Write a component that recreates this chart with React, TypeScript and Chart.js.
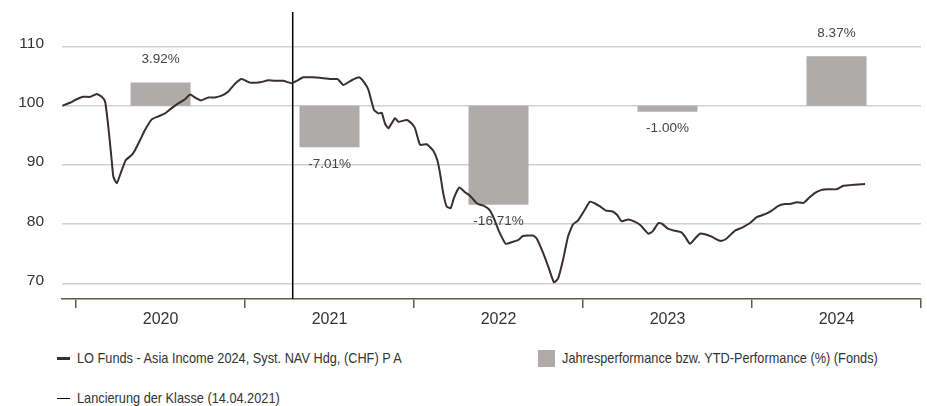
import React, { useEffect, useRef } from 'react';
import { Chart, registerables } from 'chart.js';

Chart.register(...registerables);

const FONT = "'Liberation Sans', Arial, sans-serif";

// NAV series (time in fractional years, value indexed to 100)
const navTime = [
  2019.919, 2019.964, 2020.004, 2020.043, 2020.083, 2020.122, 2020.152, 2020.172, 2020.182, 2020.195,
  2020.211, 2020.221, 2020.241, 2020.264, 2020.294, 2020.330, 2020.349, 2020.379, 2020.408, 2020.448,
  2020.487, 2020.527, 2020.566, 2020.605, 2020.645, 2020.675, 2020.704, 2020.740, 2020.783, 2020.822,
  2020.862, 2020.901, 2020.941, 2020.980, 2021.030, 2021.089, 2021.138, 2021.188, 2021.227, 2021.276,
  2021.306, 2021.345, 2021.395, 2021.454, 2021.513, 2021.549, 2021.582, 2021.631, 2021.675, 2021.706,
  2021.730, 2021.763, 2021.789, 2021.809, 2021.828, 2021.848, 2021.888, 2021.907, 2021.957, 2021.986,
  2022.006, 2022.036, 2022.075, 2022.114, 2022.138, 2022.154, 2022.173, 2022.193, 2022.217, 2022.237,
  2022.268, 2022.302, 2022.331, 2022.373, 2022.414, 2022.444, 2022.473, 2022.503, 2022.543, 2022.580,
  2022.615, 2022.645, 2022.704, 2022.726, 2022.765, 2022.795, 2022.828, 2022.852, 2022.882, 2022.911,
  2022.941, 2022.970, 2023.012, 2023.041, 2023.071, 2023.101, 2023.136, 2023.172, 2023.201, 2023.229,
  2023.268, 2023.308, 2023.337, 2023.363, 2023.386, 2023.412, 2023.446, 2023.466, 2023.505, 2023.544,
  2023.584, 2023.604, 2023.633, 2023.663, 2023.692, 2023.722, 2023.761, 2023.801, 2023.821, 2023.850,
  2023.899, 2023.939, 2023.988, 2024.028, 2024.077, 2024.117, 2024.156, 2024.195, 2024.225, 2024.264,
  2024.304, 2024.339, 2024.373, 2024.412, 2024.451, 2024.501, 2024.540, 2024.580, 2024.629, 2024.669,
];
const navValues = [
  100.0, 100.5, 101.1, 101.5, 101.5, 102.0, 101.5, 100.7, 98.7, 95.4,
  90.8, 88.0, 86.9, 88.6, 90.8, 91.7, 92.5, 94.2, 95.9, 97.7,
  98.2, 98.7, 99.6, 100.4, 101.1, 101.9, 101.4, 100.9, 101.4, 101.4,
  101.7, 102.4, 103.7, 104.5, 103.9, 103.95, 104.3, 104.2, 104.2, 103.8,
  104.2, 104.8, 104.8, 104.7, 104.5, 104.5, 103.5, 104.3, 104.8, 103.9,
  102.7, 99.3, 98.7, 98.8, 97.0, 96.2, 97.9, 97.3, 97.6, 97.0,
  96.2, 93.4, 93.5, 92.4, 90.8, 88.6, 85.2, 83.0, 82.7, 84.5,
  86.2, 85.4, 84.8, 83.5, 83.1, 82.5, 81.0, 78.8, 76.7, 77.0,
  77.3, 78.0, 78.1, 77.6, 75.1, 72.8, 70.2, 70.8, 74.0, 77.9,
  80.0, 80.6, 82.5, 83.8, 83.5, 83.0, 82.3, 82.2, 81.6, 80.5,
  80.8, 80.4, 79.9, 79.1, 78.4, 78.8, 80.2, 80.1, 79.2, 78.9,
  78.6, 77.9, 76.7, 77.6, 78.4, 78.3, 77.9, 77.3, 77.2, 77.6,
  78.9, 79.4, 80.2, 81.2, 81.7, 82.3, 83.1, 83.4, 83.4, 83.7,
  83.6, 84.5, 85.3, 85.8, 85.9, 85.9, 86.5, 86.6, 86.7, 86.8,
];

// Annual / YTD performance (%)
const perfYears = [2020, 2021, 2022, 2023, 2024];
const perfValues = [3.92, -7.01, -16.71, -1.0, 8.37];

const yTicks = [70, 80, 90, 100, 110];
const xYears = [2020, 2021, 2022, 2023, 2024, 2025];
const launchDate = '2021-04-14';

const seriesLabel = 'LO Funds - Asia Income 2024, Syst. NAV Hdg, (CHF) P A';
const barLegendLabel = 'Jahresperformance bzw. YTD-Performance (%) (Fonds)';
const launchLabel = 'Lancierung der Klasse (14.04.2021)';

const LINE_COLOR = '#3a2e2e';
const BAR_COLOR = '#afabaa';
const AXIS_COLOR = '#5c5c48';
const GRID_COLOR = '#cfcfcf';
const TEXT_COLOR = '#333333';

const X_MIN = 2019.917;
const X_MAX = 2025;
const Y_MIN = 67.38;
const Y_MAX = 115.82;

function dateToYear(s: string): number {
  const d = new Date(s + 'T00:00:00Z');
  const y = d.getUTCFullYear();
  const start = Date.UTC(y, 0, 1);
  const end = Date.UTC(y + 1, 0, 1);
  return y + (d.getTime() - start) / (end - start);
}

const barLabelPlugin = {
  id: 'barLabels',
  afterDatasetDraw(chart: any, args: any) {
    const ds = chart.data.datasets[args.index];
    if (ds.type !== 'bar') return;
    const ctx = chart.ctx;
    const yScale = chart.scales.y;
    ctx.save();
    ctx.font = `13.5px ${FONT}`;
    ctx.fillStyle = '#444444';
    ctx.textAlign = 'center';
    ctx.textBaseline = 'middle';
    args.meta.data.forEach((el: any, i: number) => {
      const v = perfValues[i];
      const end = yScale.getPixelForValue(100 + v);
      const y = v >= 0 ? end - 23 : end + 17;
      ctx.fillText(`${v.toFixed(2)}%`, el.x, y);
    });
    ctx.restore();
  },
};

export default function App() {
  const canvasRef = useRef<HTMLCanvasElement | null>(null);

  useEffect(() => {
    if (!canvasRef.current) return;
    const launch = dateToYear(launchDate);
    const chart = new Chart(canvasRef.current, {
      data: {
        datasets: [
          {
            type: 'line',
            label: seriesLabel,
            data: navTime.map((t, i) => ({ x: t, y: navValues[i] })),
            borderColor: LINE_COLOR,
            borderWidth: 2,
            pointRadius: 0,
            tension: 0.15,
            fill: false,
          },
          {
            type: 'line',
            label: launchLabel,
            data: [
              { x: launch, y: Y_MIN },
              { x: launch, y: Y_MAX },
            ],
            borderColor: '#000000',
            borderWidth: 1.5,
            pointRadius: 0,
            fill: false,
          },
          {
            type: 'bar',
            label: barLegendLabel,
            data: perfYears.map((yr, i) => ({ x: yr + 0.5, y: [100, 100 + perfValues[i]] })),
            backgroundColor: BAR_COLOR,
            borderWidth: 0,
            barPercentage: 1,
            categoryPercentage: 0.71,
          },
        ] as any,
      },
      options: {
        animation: false,
        responsive: false,
        layout: { padding: { top: 12, right: 6, left: 0, bottom: 0 } },
        plugins: {
          legend: { display: false },
          tooltip: { enabled: false },
        },
        scales: {
          x: {
            type: 'linear',
            offset: false,
            min: X_MIN,
            max: X_MAX,
            afterBuildTicks: (scale: any) => {
              const ticks: any[] = [];
              xYears.forEach((y, i) => {
                ticks.push({ value: y });
                if (i < xYears.length - 1) ticks.push({ value: y + 0.5 });
              });
              scale.ticks = ticks;
            },
            afterFit: (scale: any) => {
              scale.height = 36;
              scale.paddingLeft = 0;
              scale.paddingRight = 0;
            },
            ticks: {
              autoSkip: false,
              maxRotation: 0,
              minRotation: 0,
              padding: 2,
              color: TEXT_COLOR,
              font: { family: FONT, size: 16 },
              callback: (value: any) => {
                const v = Number(value);
                return Number.isInteger(v) ? '' : String(Math.floor(v));
              },
            },
            grid: {
              offset: false,
              drawOnChartArea: false,
              drawTicks: true,
              tickLength: 9,
              lineWidth: 1.5,
              color: (ctx: any) =>
                ctx.tick && Number.isInteger(ctx.tick.value) ? AXIS_COLOR : 'rgba(0,0,0,0)',
            },
            border: { display: true, color: AXIS_COLOR, width: 1.5 },
          },
          y: {
            type: 'linear',
            min: Y_MIN,
            max: Y_MAX,
            afterBuildTicks: (scale: any) => {
              scale.ticks = yTicks.map((v) => ({ value: v }));
            },
            afterFit: (scale: any) => {
              scale.width = 62;
              scale.paddingTop = 0;
              scale.paddingBottom = 0;
            },
            ticks: {
              padding: 18,
              labelOffset: -3,
              color: TEXT_COLOR,
              font: { family: FONT, size: 15.5 },
            },
            grid: {
              drawTicks: false,
              color: GRID_COLOR,
              lineWidth: 1.5,
            },
            border: { display: false },
          },
        },
      } as any,
      plugins: [barLabelPlugin],
    });
    return () => chart.destroy();
  }, []);

  const legendText: React.CSSProperties = {
    position: 'absolute',
    fontFamily: FONT,
    fontSize: '15px',
    lineHeight: '20px',
    color: TEXT_COLOR,
    whiteSpace: 'nowrap',
    transform: 'scaleX(0.85)',
    transformOrigin: '0 50%',
  };

  return (
    <div
      style={{
        position: 'absolute',
        left: 0,
        top: 0,
        width: 927,
        height: 406,
        background: '#ffffff',
        overflow: 'hidden',
      }}
    >
      <canvas ref={canvasRef} width={927} height={335} style={{ display: 'block' }} />
      {/* Legend */}
      <div style={{ position: 'absolute', left: 57, top: 356.5, width: 13, height: 3, background: LINE_COLOR }} />
      <div style={{ ...legendText, left: 77, top: 348 }}>{seriesLabel}</div>
      <div style={{ position: 'absolute', left: 538, top: 350, width: 17, height: 17, background: BAR_COLOR }} />
      <div style={{ ...legendText, left: 562, top: 348 }}>{barLegendLabel}</div>
      <div style={{ position: 'absolute', left: 57, top: 397.5, width: 13, height: 1, background: '#000000' }} />
      <div style={{ ...legendText, left: 77, top: 388 }}>{launchLabel}</div>
    </div>
  );
}
